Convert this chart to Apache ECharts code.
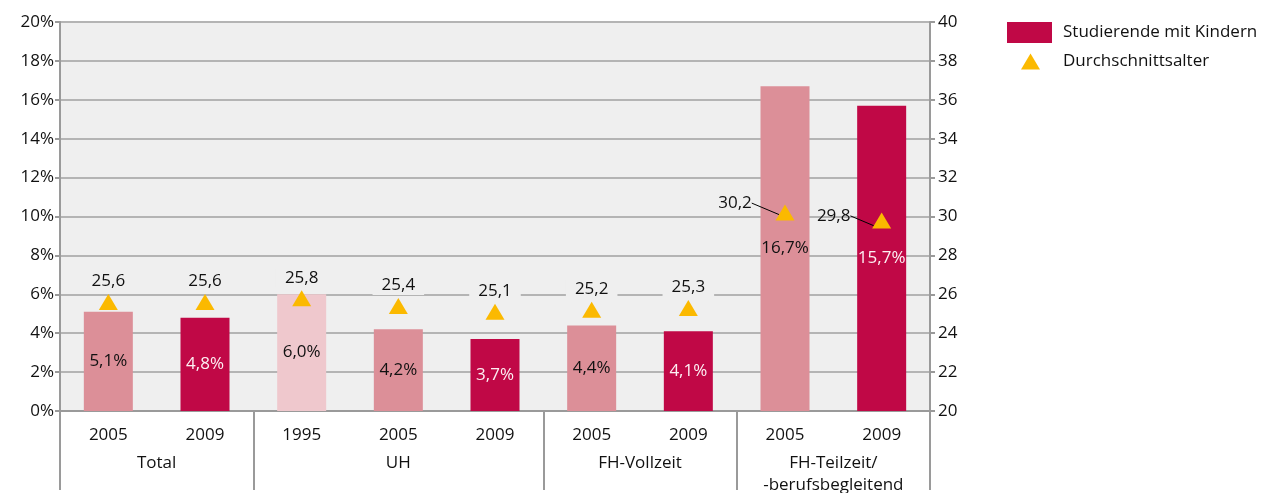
<!DOCTYPE html>
<html style="height: 100%">
<head>
	<meta charset="utf-8">
</head>
<body style="height: 100%; margin: 0; background: #fff">
<div id="container" style="width: 1261px; height: 493px"></div>
<script type="text/javascript" src="https://cdn.jsdelivr.net/npm/echarts@6/dist/echarts.min.js"></script>
<script type="text/javascript">
    var years = ['2005', '2009', '1995', '2005', '2009', '2005', '2009', '2005', '2009'];
    var groups = ['Total', 'UH', 'FH-Vollzeit', 'FH-Teilzeit/\n-berufsbegleitend'];
    var groupSpans = [2, 3, 2, 2];
    var shares = [5.1, 4.8, 6.0, 4.2, 3.7, 4.4, 4.1, 16.7, 15.7];
    var ages = [25.6, 25.6, 25.8, 25.4, 25.1, 25.2, 25.3, 30.2, 29.8];
    var shareTicks = [0, 20, 2];
    var ageTicks = [20, 40, 2];

    var yearColors = { '1995': '#efc8cd', '2005': '#dc8f98', '2009': '#c00846' };
    var yearLabelColors = { '1995': '#111111', '2005': '#111111', '2009': '#fdf0f3' };
    var font = '"Open Sans", "Noto Sans", sans-serif';
    var ink = '#111111';

    function comma(v) {
        return v.toFixed(1).replace('.', ',');
    }

    // group boundaries + centers on a 0..n value axis
    var bounds = [0];
    var centers = [];
    var groupAt = {};
    groupSpans.forEach(function (s) {
        var start = bounds[bounds.length - 1];
        centers.push(start + s / 2);
        groupAt[start + s / 2] = groups[centers.length - 1];
        bounds.push(start + s);
    });

    var barData = shares.map(function (v, i) {
        return {
            value: v,
            itemStyle: { color: yearColors[years[i]] },
            label: { color: yearLabelColors[years[i]] }
        };
    });

    // the last two age labels sit to the left with a leader line
    var labelShift = { 7: [-50, 10], 8: [-48, 15] };

    var ageData = ages.map(function (v, i) {
        var d = { value: v };
        if (labelShift[i]) {
            d.label = { backgroundColor: 'transparent', padding: 0 };
            d.labelLine = { show: true };
        }
        return d;
    });

    var dom = document.getElementById('container');
    var myChart = echarts.init(dom);

    var option = {
        animation: false,
        backgroundColor: '#ffffff',
        textStyle: { fontFamily: font },
        grid: {
            left: 60, right: 331, top: 22, bottom: 82,
            outerBoundsMode: 'none', containLabel: false,
            show: true, backgroundColor: '#efefef', borderWidth: 0
        },
        legend: [{
            data: ['Studierende mit Kindern'],
            left: 1007, top: 22, padding: 0,
            itemWidth: 45, itemHeight: 21,
            icon: 'rect',
            textStyle: { fontSize: 17, color: ink, padding: [0, 0, 0, 6] }
        }, {
            data: ['Durchschnittsalter'],
            left: 1021, top: 53, padding: 0,
            itemWidth: 19, itemHeight: 16,
            icon: 'triangle',
            textStyle: { fontSize: 17, color: ink, padding: [0, 0, 0, 18] }
        }],
        xAxis: [{
            type: 'category',
            data: years,
            axisLine: { lineStyle: { color: '#9a9a9a', width: 2 } },
            axisTick: { show: false },
            axisLabel: { fontSize: 17, color: ink, margin: 16 }
        }, {
            type: 'value',
            position: 'bottom',
            min: 0, max: years.length,
            axisLine: { show: false },
            splitLine: { show: false },
            axisTick: {
                show: true, customValues: bounds, length: 79,
                lineStyle: { color: '#9a9a9a', width: 2 }
            },
            axisLabel: {
                customValues: centers, fontSize: 17, color: ink,
                margin: 41, lineHeight: 22,
                formatter: function (v) { return groupAt[v] || ''; }
            }
        }],
        yAxis: [{
            type: 'value',
            min: shareTicks[0], max: shareTicks[1], interval: shareTicks[2],
            axisLine: { show: true, lineStyle: { color: '#9a9a9a', width: 2 } },
            axisTick: { show: true, length: 5, lineStyle: { color: '#9a9a9a', width: 2 } },
            splitLine: { lineStyle: { color: '#b4b4b4', width: 2 } },
            axisLabel: { fontSize: 17, color: ink, margin: 6, formatter: '{value}%' }
        }, {
            type: 'value',
            min: ageTicks[0], max: ageTicks[1], interval: ageTicks[2],
            axisLine: { show: true, lineStyle: { color: '#9a9a9a', width: 2 } },
            axisTick: { show: true, length: 5, lineStyle: { color: '#9a9a9a', width: 2 } },
            splitLine: { show: false },
            axisLabel: { fontSize: 17, color: ink, margin: 8 }
        }],
        series: [{
            name: 'Studierende mit Kindern',
            type: 'bar',
            barWidth: 49,
            itemStyle: { color: '#c00846' },
            label: {
                show: true, position: 'inside', fontSize: 17,
                formatter: function (p) { return comma(p.value) + '%'; }
            },
            data: barData
        }, {
            name: 'Durchschnittsalter',
            type: 'scatter',
            yAxisIndex: 1,
            symbol: 'triangle',
            symbolSize: [19, 16],
            itemStyle: { color: '#fbb900', opacity: 1 },
            z: 5,
            label: {
                show: true, position: 'top', distance: 3,
                fontSize: 17, color: ink,
                backgroundColor: '#efefef', padding: [1, 9],
                formatter: function (p) { return comma(p.value); }
            },
            labelLine: { show: false, lineStyle: { color: '#000', width: 1 } },
            labelLayout: function (p) {
                var s = labelShift[p.dataIndex];
                if (s) return { dx: s[0], dy: s[1] };
                return {};
            },
            data: ageData
        }]
    };

    myChart.setOption(option);
</script>
</body>
</html>
